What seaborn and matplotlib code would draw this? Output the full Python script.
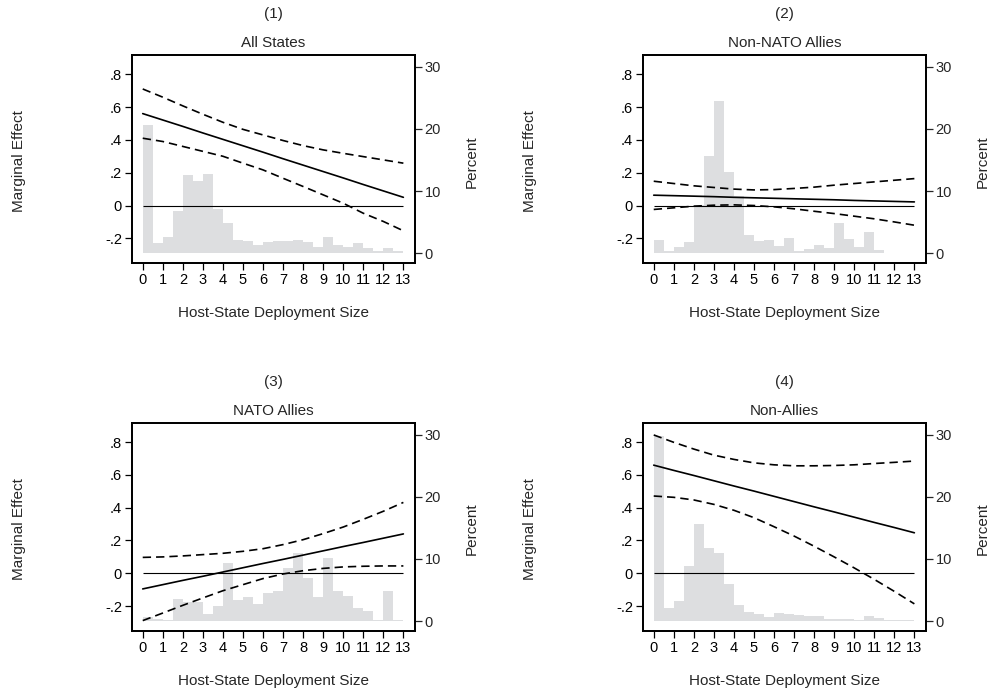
import numpy as np
import pandas as pd
import seaborn as sns
import matplotlib.pyplot as plt

sns.set_style("white")
plt.rcParams['font.family'] = ['Liberation Sans', 'DejaVu Sans']

# deployment size grid (x) and histogram bins of width 0.5
deploy_size = list(range(14))
bin_mid = np.arange(0.25, 13, 0.5)

# (1) All States
me_all = [0.560, 0.521, 0.482, 0.442, 0.403, 0.364, 0.325, 0.285, 0.246, 0.207, 0.168, 0.128, 0.089, 0.050]
hi_all = [0.710, 0.660, 0.607, 0.556, 0.507, 0.464, 0.430, 0.396, 0.365, 0.339, 0.318, 0.298, 0.278, 0.258]
lo_all = [0.410, 0.390, 0.360, 0.330, 0.300, 0.258, 0.217, 0.166, 0.116, 0.065, 0.014, -0.047, -0.097, -0.154]
pct_all = [20.6, 1.7, 2.6, 6.8, 12.6, 11.6, 12.7, 7.1, 4.9, 2.2, 2.0, 1.4, 1.9,
           2.0, 2.0, 2.1, 1.9, 1.1, 2.7, 1.3, 1.0, 1.7, 0.8, 0.4, 0.9, 0.4]

# (2) Non-NATO Allies
me_nonnato = [0.063, 0.060, 0.057, 0.054, 0.050, 0.047, 0.044, 0.041, 0.038, 0.035, 0.031, 0.028, 0.025, 0.022]
hi_nonnato = [0.148, 0.134, 0.120, 0.110, 0.100, 0.095, 0.097, 0.104, 0.112, 0.124, 0.134, 0.144, 0.154, 0.164]
lo_nonnato = [-0.024, -0.014, -0.004, 0.002, 0.004, 0.000, -0.008, -0.020, -0.035, -0.049, -0.065, -0.081, -0.100, -0.120]
pct_nonnato = [2.2, 0.3, 1.0, 1.8, 7.8, 15.7, 24.5, 13.1, 9.2, 2.9, 2.0, 2.1, 1.2,
               2.4, 0.3, 0.65, 1.4, 0.9, 4.9, 2.3, 1.1, 3.4, 0.5, 0.0, 0.1, 0.1]

# (3) NATO Allies
me_nato = [-0.095, -0.069, -0.043, -0.018, 0.008, 0.034, 0.060, 0.085, 0.111, 0.137, 0.163, 0.188, 0.214, 0.240]
hi_nato = [0.097, 0.100, 0.106, 0.114, 0.122, 0.134, 0.150, 0.175, 0.205, 0.242, 0.282, 0.329, 0.378, 0.432]
lo_nato = [-0.288, -0.242, -0.195, -0.150, -0.106, -0.069, -0.032, -0.004, 0.016, 0.030, 0.039, 0.043, 0.045, 0.045]
pct_nato = [0.65, 0.4, 0.25, 3.5, 3.0, 3.0, 1.2, 2.5, 9.4, 3.4, 3.9, 2.8, 4.6,
            4.9, 8.6, 11.0, 6.9, 3.9, 10.1, 4.8, 4.1, 2.1, 1.7, 0.25, 4.8, 0.25]

# (4) Non-Allies
me_non = [0.659, 0.627, 0.596, 0.564, 0.532, 0.501, 0.469, 0.437, 0.405, 0.374, 0.342, 0.310, 0.279, 0.247]
hi_non = [0.843, 0.798, 0.757, 0.720, 0.694, 0.673, 0.661, 0.655, 0.655, 0.657, 0.661, 0.669, 0.676, 0.684]
lo_non = [0.471, 0.463, 0.447, 0.420, 0.384, 0.339, 0.284, 0.227, 0.165, 0.100, 0.033, -0.037, -0.110, -0.186]
pct_non = [29.8, 2.1, 3.3, 8.8, 15.7, 11.7, 10.9, 5.9, 2.6, 1.5, 1.2, 0.7, 1.3,
           1.2, 1.0, 0.75, 0.85, 0.4, 0.4, 0.3, 0.2, 0.85, 0.5, 0.2, 0.2, 0.15]

panels = [
    ("(1)", "All States", me_all, hi_all, lo_all, pct_all),
    ("(2)", "Non-NATO Allies", me_nonnato, hi_nonnato, lo_nonnato, pct_nonnato),
    ("(3)", "NATO Allies", me_nato, hi_nato, lo_nato, pct_nato),
    ("(4)", "Non-Allies", me_non, hi_non, lo_non, pct_non),
]

fig = plt.figure(figsize=(9.89, 6.93), dpi=100)
W, H = 989, 693
lefts = [131.7, 642.7]
tops = [55, 422.8]
aw, ah = 283.3, 208.3

me_ticks = [-0.2, 0, 0.2, 0.4, 0.6, 0.8]
me_ticklabels = ["-.2", "0", ".2", ".4", ".6", ".8"]

for i, (num, title, me, hi, lo, pct) in enumerate(panels):
    l = lefts[i % 2]
    t = tops[i // 2]
    ax = fig.add_axes([l / W, 1 - (t + ah) / H, aw / W, ah / H])
    ax2 = ax.twinx()

    # histogram on right axis, behind the lines
    hist_df = pd.DataFrame({"size": bin_mid, "pct": pct})
    sns.histplot(data=hist_df, x="size", weights="pct", binwidth=0.5, binrange=(0, 13),
                 ax=ax2, color="#dddee0", alpha=1, linewidth=0, edgecolor="none")
    ax.set_zorder(ax2.get_zorder() + 1)
    ax.patch.set_visible(False)

    ax.hlines(0, deploy_size[0], deploy_size[-1], color="black", lw=0.8)
    sns.lineplot(x=deploy_size, y=me, ax=ax, color="black", lw=1.2)
    sns.lineplot(x=deploy_size, y=hi, ax=ax, color="black", lw=1.2, linestyle=(0, (5, 3)))
    sns.lineplot(x=deploy_size, y=lo, ax=ax, color="black", lw=1.2, linestyle=(0, (5, 3)))

    ax.set_xlim(-0.55, 13.58)
    ax.set_ylim(-0.352, 0.917)
    ax2.set_ylim(-1.6, 31.9)

    ax.set_xticks(deploy_size)
    ax.set_yticks(me_ticks)
    ax.set_yticklabels(me_ticklabels)
    ax2.set_yticks([0, 10, 20, 30])
    ax.set_xlabel("")
    ax.set_ylabel("")
    ax2.set_ylabel("")
    ax2.set_xlabel("")

    ax.tick_params(axis="both", direction="out", length=5, width=0.9,
                   labelsize=10.5, pad=2, colors="black")
    ax.tick_params(axis="x", bottom=True, top=False)
    ax.tick_params(axis="y", left=True, right=False)
    ax2.tick_params(axis="y", direction="out", length=5, width=0.9,
                    labelsize=10.5, pad=2, right=True)
    for a in (ax, ax2):
        for s in a.spines.values():
            s.set_color("black")
            s.set_linewidth(1.3)

    ax.text(0.5, 1 + 41 / ah, num, transform=ax.transAxes, ha="center", va="center", fontsize=11)
    ax.text(0.5, 1 + 12 / ah, title, transform=ax.transAxes, ha="center", va="center", fontsize=11)
    ax.text(0.5, -50 / ah, "Host-State Deployment Size", transform=ax.transAxes,
            ha="center", va="center", fontsize=11)
    ax.text(-112.7 / aw, 0.49, "Marginal Effect", transform=ax.transAxes,
            ha="center", va="center", rotation=90, fontsize=11)
    ax.text(1 + 56.5 / aw, 0.49, "Percent", transform=ax.transAxes,
            ha="center", va="center", rotation=90, fontsize=11)

fig.savefig("out.png", dpi=100)
